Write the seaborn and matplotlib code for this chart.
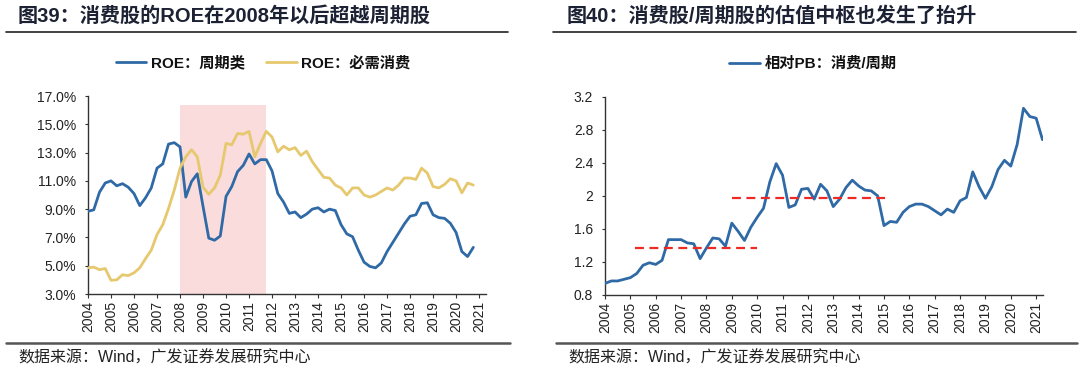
import numpy as np
import pandas as pd
import matplotlib
matplotlib.use("Agg")
import matplotlib.pyplot as plt
import seaborn as sns
from matplotlib.lines import Line2D

# ---------------- data ----------------
# Left chart: quarterly ROE, 2004Q1 .. 2020Q4
roe_start = 2004.0
roe_cyclical = [8.85, 8.95, 10.2, 10.85, 11.0, 10.65, 10.8, 10.55, 10.1, 9.25, 9.8, 10.5,
                11.9, 12.2, 13.6, 13.7, 13.4, 9.85, 10.95, 11.5, 9.2, 6.95, 6.8, 7.1,
                9.9, 10.6, 11.65, 12.1, 12.9, 12.2, 12.5, 12.5, 11.7, 10.1, 9.5, 8.7,
                8.8, 8.4, 8.65, 9.0, 9.1, 8.8, 9.0, 8.9, 7.9, 7.25, 7.05, 6.1,
                5.25, 4.95, 4.85, 5.2, 6.0, 6.65, 7.3, 7.95, 8.5, 8.6, 9.4, 9.45,
                8.6, 8.4, 8.35, 8.0, 7.35, 6.0, 5.65, 6.3]
roe_staples = [4.85, 4.9, 4.72, 4.8, 3.97, 4.0, 4.36, 4.3, 4.5, 4.85, 5.5, 6.1,
               7.2, 7.9, 9.05, 10.35, 11.9, 12.7, 13.2, 12.7, 10.55, 10.05, 10.5, 11.4,
               13.65, 13.55, 14.35, 14.3, 14.5, 12.7, 13.65, 14.5, 14.1, 13.05, 13.45, 13.2,
               13.35, 12.8, 13.1, 12.35, 11.8, 11.25, 11.2, 10.7, 10.5, 10.0, 10.5, 10.5,
               10.0, 9.85, 10.0, 10.25, 10.5, 10.35, 10.7, 11.2, 11.2, 11.1, 11.9, 11.55,
               10.6, 10.5, 10.75, 11.15, 11.0, 10.15, 10.85, 10.7]
shade_span = [2008.0, 2011.72]
shade_top = 16.36
left_yticks = [3, 5, 7, 9, 11, 13, 15, 17]

# Right chart: quarterly relative PB, 2004Q1 .. 2021Q2
pb_start = 2004.0
pb_relative = [0.94, 0.97, 0.97, 0.99, 1.01, 1.06, 1.16, 1.19, 1.17, 1.22, 1.47, 1.47,
               1.47, 1.43, 1.42, 1.24, 1.37, 1.49, 1.48, 1.39, 1.67, 1.57, 1.46, 1.62,
               1.74, 1.85, 2.17, 2.39, 2.25, 1.86, 1.89, 2.08, 2.09, 1.96, 2.14, 2.06,
               1.87, 1.96, 2.10, 2.19, 2.12, 2.07, 2.06, 2.00, 1.64, 1.69, 1.68, 1.80,
               1.87, 1.90, 1.90, 1.87, 1.82, 1.77, 1.84, 1.80, 1.94, 1.98, 2.29, 2.11,
               1.97, 2.11, 2.32, 2.43, 2.36, 2.62, 3.06, 2.96, 2.94, 2.68]
pivot_levels = [1.365, 1.97]
pivot_from = [2005.2, 2009.0]
pivot_to = [2010.0, 2015.05]
right_yticks = [0.8, 1.2, 1.6, 2.0, 2.4, 2.8, 3.2]
right_yticklabels = ["0.8", "1.2", "1.6", "2", "2.4", "2.8", "3.2"]

years = list(range(2004, 2022))

left_title = "图39：消费股的ROE在2008年以后超越周期股"
right_title = "图40：消费股/周期股的估值中枢也发生了抬升"
left_labels = ["ROE：周期类", "ROE：必需消费"]
right_label = "相对PB：消费/周期"
source_text = "数据来源：Wind，广发证券发展研究中心"

# ---------------- style ----------------
sns.set_style("ticks")
plt.rcParams['font.family'] = ['Liberation Sans', 'Noto Sans CJK SC', 'DejaVu Sans']
plt.rcParams['axes.unicode_minus'] = False

BLUE = "#2f6aa6"
GOLD = "#e6c86e"
DARK = "#1c2233"
AXC = "#333333"

fig = plt.figure(figsize=(10.8, 3.75), dpi=100)

n1 = len(roe_cyclical)
t1 = roe_start + np.arange(n1) * 0.25
df1 = pd.DataFrame({
    "t": np.concatenate([t1, t1]),
    "v": roe_cyclical + roe_staples,
    "s": [left_labels[0]] * n1 + [left_labels[1]] * n1,
})
n2 = len(pb_relative)
t2 = pb_start + np.arange(n2) * 0.25
df2 = pd.DataFrame({"t": t2, "v": pb_relative, "s": [right_label] * n2})

ax1 = fig.add_axes([88 / 1080, 1 - 294 / 375, (486 - 88) / 1080, (294 - 96) / 375])
ax2 = fig.add_axes([605 / 1080, 1 - 295 / 375, (1043 - 605) / 1080, (295 - 96.7) / 375])

# shaded region
ax1.axvspan(shade_span[0], shade_span[1], ymin=0, ymax=(shade_top - 3) / 14,
            color="#fadcdc", lw=0, zorder=0)
sns.lineplot(data=df1, x="t", y="v", hue="s", palette=[BLUE, GOLD], ax=ax1,
             linewidth=2.0, zorder=3)
ax1.set_xlim(2004, 2021.3)
ax1.set_ylim(3, 17)
ax1.set_yticks(left_yticks)
ax1.set_yticklabels([f"{v:.1f}%" for v in left_yticks])

sns.lineplot(data=df2, x="t", y="v", hue="s", palette=[BLUE], ax=ax2,
             linewidth=2.0, zorder=3)
for lv, a, b in zip(pivot_levels, pivot_from, pivot_to):
    ax2.plot([a, b], [lv, lv], color="#ee2a24", ls=(0, (4, 2.5)), lw=1.6, zorder=4)
ax2.set_xlim(2004, 2021.27)
ax2.set_ylim(0.8, 3.2)
ax2.set_yticks(right_yticks)
ax2.set_yticklabels(right_yticklabels)

for ax in (ax1, ax2):
    ax.set_xticks(years)
    ax.set_xticklabels([str(y) for y in years], rotation=90)
    ax.set_xlabel("")
    ax.set_ylabel("")
    for s in ("top", "right"):
        ax.spines[s].set_visible(False)
    for s in ("left", "bottom"):
        ax.spines[s].set_color(AXC)
        ax.spines[s].set_linewidth(1.0)
    ax.tick_params(axis="x", length=3, width=0.8, color=AXC, labelsize=10,
                   labelcolor="#222222", pad=2)
    ax.tick_params(axis="y", length=2.5, width=0.8, color=AXC, labelsize=10,
                   labelcolor="#222222", pad=6)
    ax.grid(False)
    ax.set_facecolor("white")

leg1 = ax1.legend(loc="lower center", bbox_to_anchor=(0.44, 1.06), ncol=2, frameon=False,
                  handlelength=2.0, handletextpad=0.3, columnspacing=1.4,
                  prop={"size": 11, "weight": "bold"})
leg2 = ax2.legend(loc="lower center", bbox_to_anchor=(0.475, 1.06), ncol=1, frameon=False,
                  handlelength=2.0, handletextpad=0.3,
                  prop={"size": 11, "weight": "bold"})
for leg in (leg1, leg2):
    for h in leg.get_lines():
        h.set_linewidth(2.0)
    for t in leg.get_texts():
        t.set_color("#111111")

# titles and rules
fig.text(18 / 1080, 1 - 16 / 375, left_title, fontsize=14.5, fontweight="bold",
         color=DARK, va="center", ha="left")
fig.text(567 / 1080, 1 - 16 / 375, right_title, fontsize=14.5, fontweight="bold",
         color=DARK, va="center", ha="left")
fig.add_artist(Line2D([6 / 1080, 508 / 1080], [1 - 32 / 375] * 2, color="#222222", lw=1.2))
fig.add_artist(Line2D([553 / 1080, 1076 / 1080], [1 - 32 / 375] * 2, color="#222222", lw=1.2))
fig.add_artist(Line2D([6 / 1080, 510 / 1080], [1 - 343 / 375] * 2, color="#555555", lw=1.8))
fig.add_artist(Line2D([556 / 1080, 1077 / 1080], [1 - 343 / 375] * 2, color="#555555", lw=1.8))
fig.text(18 / 1080, 1 - 358 / 375, source_text, fontsize=11.5, color="#222222",
         va="center", ha="left")
fig.text(568 / 1080, 1 - 358 / 375, source_text, fontsize=11.5, color="#222222",
         va="center", ha="left")

fig.savefig("out.png", dpi=100, facecolor="white")
